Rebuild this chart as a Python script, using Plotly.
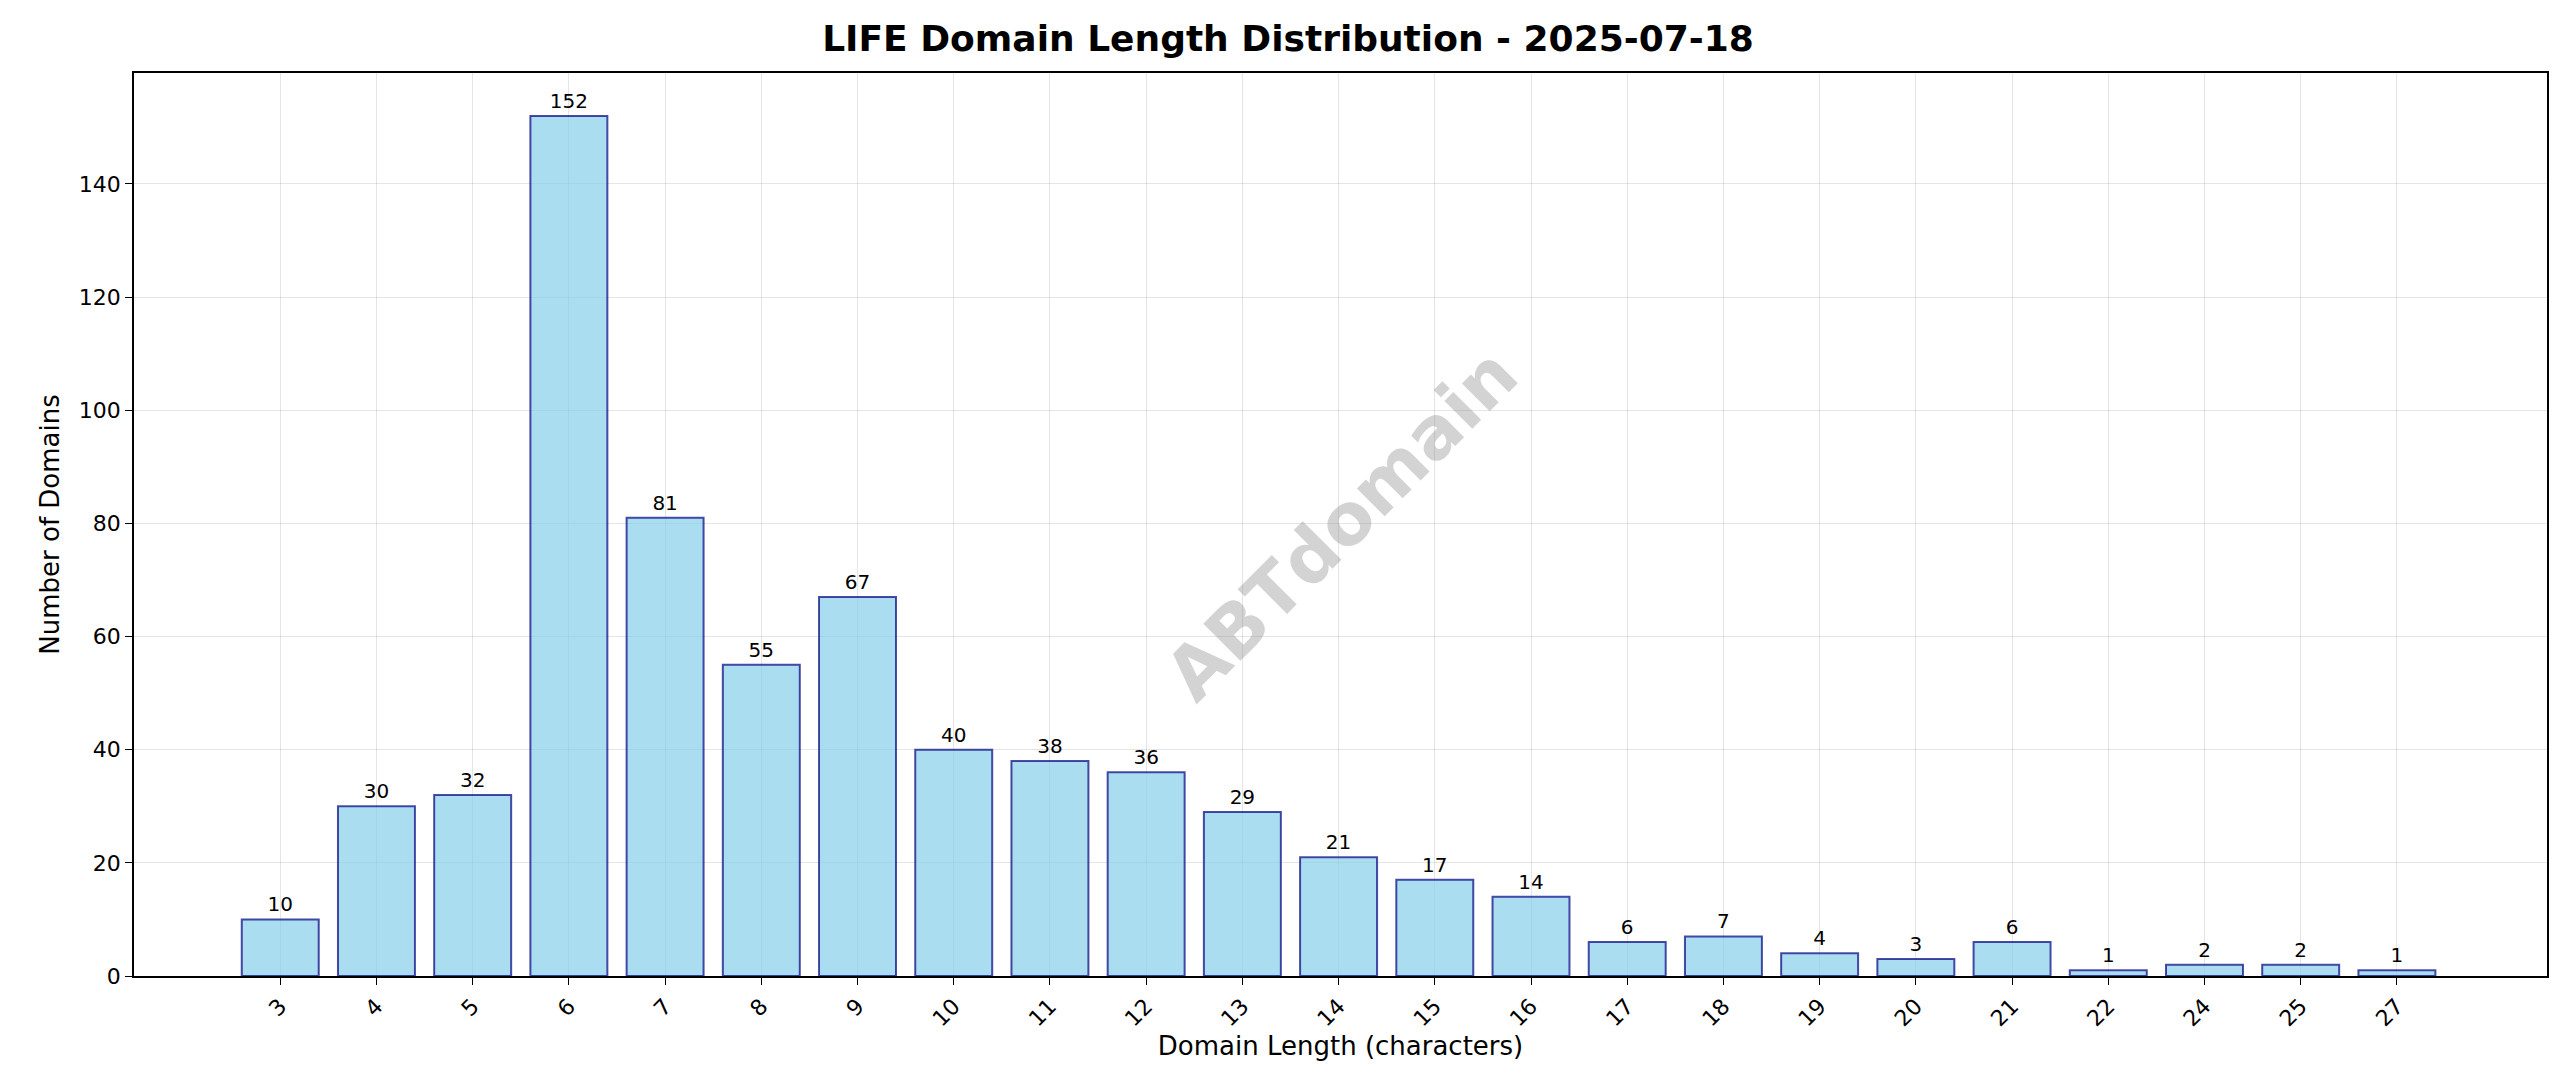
import plotly.graph_objects as go

lengths = ["3", "4", "5", "6", "7", "8", "9", "10", "11", "12", "13", "14",
           "15", "16", "17", "18", "19", "20", "21", "22", "24", "25", "27"]
counts = [10, 30, 32, 152, 81, 55, 67, 40, 38, 36, 29, 21,
          17, 14, 6, 7, 4, 3, 6, 1, 2, 2, 1]

font = "DejaVu Sans"

fig = go.Figure()

fig.add_trace(go.Bar(
    x=lengths, y=counts, width=0.8,
    marker=dict(color="rgba(135,206,235,0.7)",
                line=dict(color="rgba(0,0,128,0.7)", width=2)),
    text=[str(c) for c in counts], textposition="outside",
    textfont=dict(size=20, color="black", family=font),
    cliponaxis=False,
))

# watermark
fig.add_annotation(text="<b>ABTdomain</b>", xref="paper", yref="paper",
                   x=0.5, y=0.5, showarrow=False, textangle=-45,
                   font=dict(size=72, color="rgba(128,128,128,0.35)", family=font))

fig.update_layout(
    title=dict(text="<b>LIFE Domain Length Distribution - 2025-07-18</b>",
               x=0.5, xanchor="center", y=0.972, yanchor="middle",
               font=dict(size=36, color="black", family=font)),
    width=2560, height=1087,
    margin=dict(l=126, r=21, t=65, b=119),
    plot_bgcolor="white", paper_bgcolor="white",
    showlegend=False,
    uniformtext=dict(minsize=20, mode="show"),
    font=dict(family=font, color="black"),
)
fig.update_xaxes(
    type="category", range=[-1.52, 23.56],
    title=dict(text="Domain Length (characters)", font=dict(size=26, family=font), standoff=6),
    tickangle=-45, tickfont=dict(size=22, family=font),
    ticks="outside", ticklen=7, tickcolor="black",
    showgrid=True, gridcolor="rgba(0,0,0,0.1)",
    showline=True, linecolor="black", linewidth=1.5, mirror=True,
)
fig.update_yaxes(
    range=[0, 159.6], dtick=20,
    title=dict(text="Number of Domains", font=dict(size=26, family=font), standoff=12),
    tickfont=dict(size=22, family=font),
    ticks="outside", ticklen=7, tickcolor="black",
    showgrid=True, gridcolor="rgba(0,0,0,0.1)", zeroline=False,
    showline=True, linecolor="black", linewidth=1.5, mirror=True,
)

fig.write_html("out.html")
